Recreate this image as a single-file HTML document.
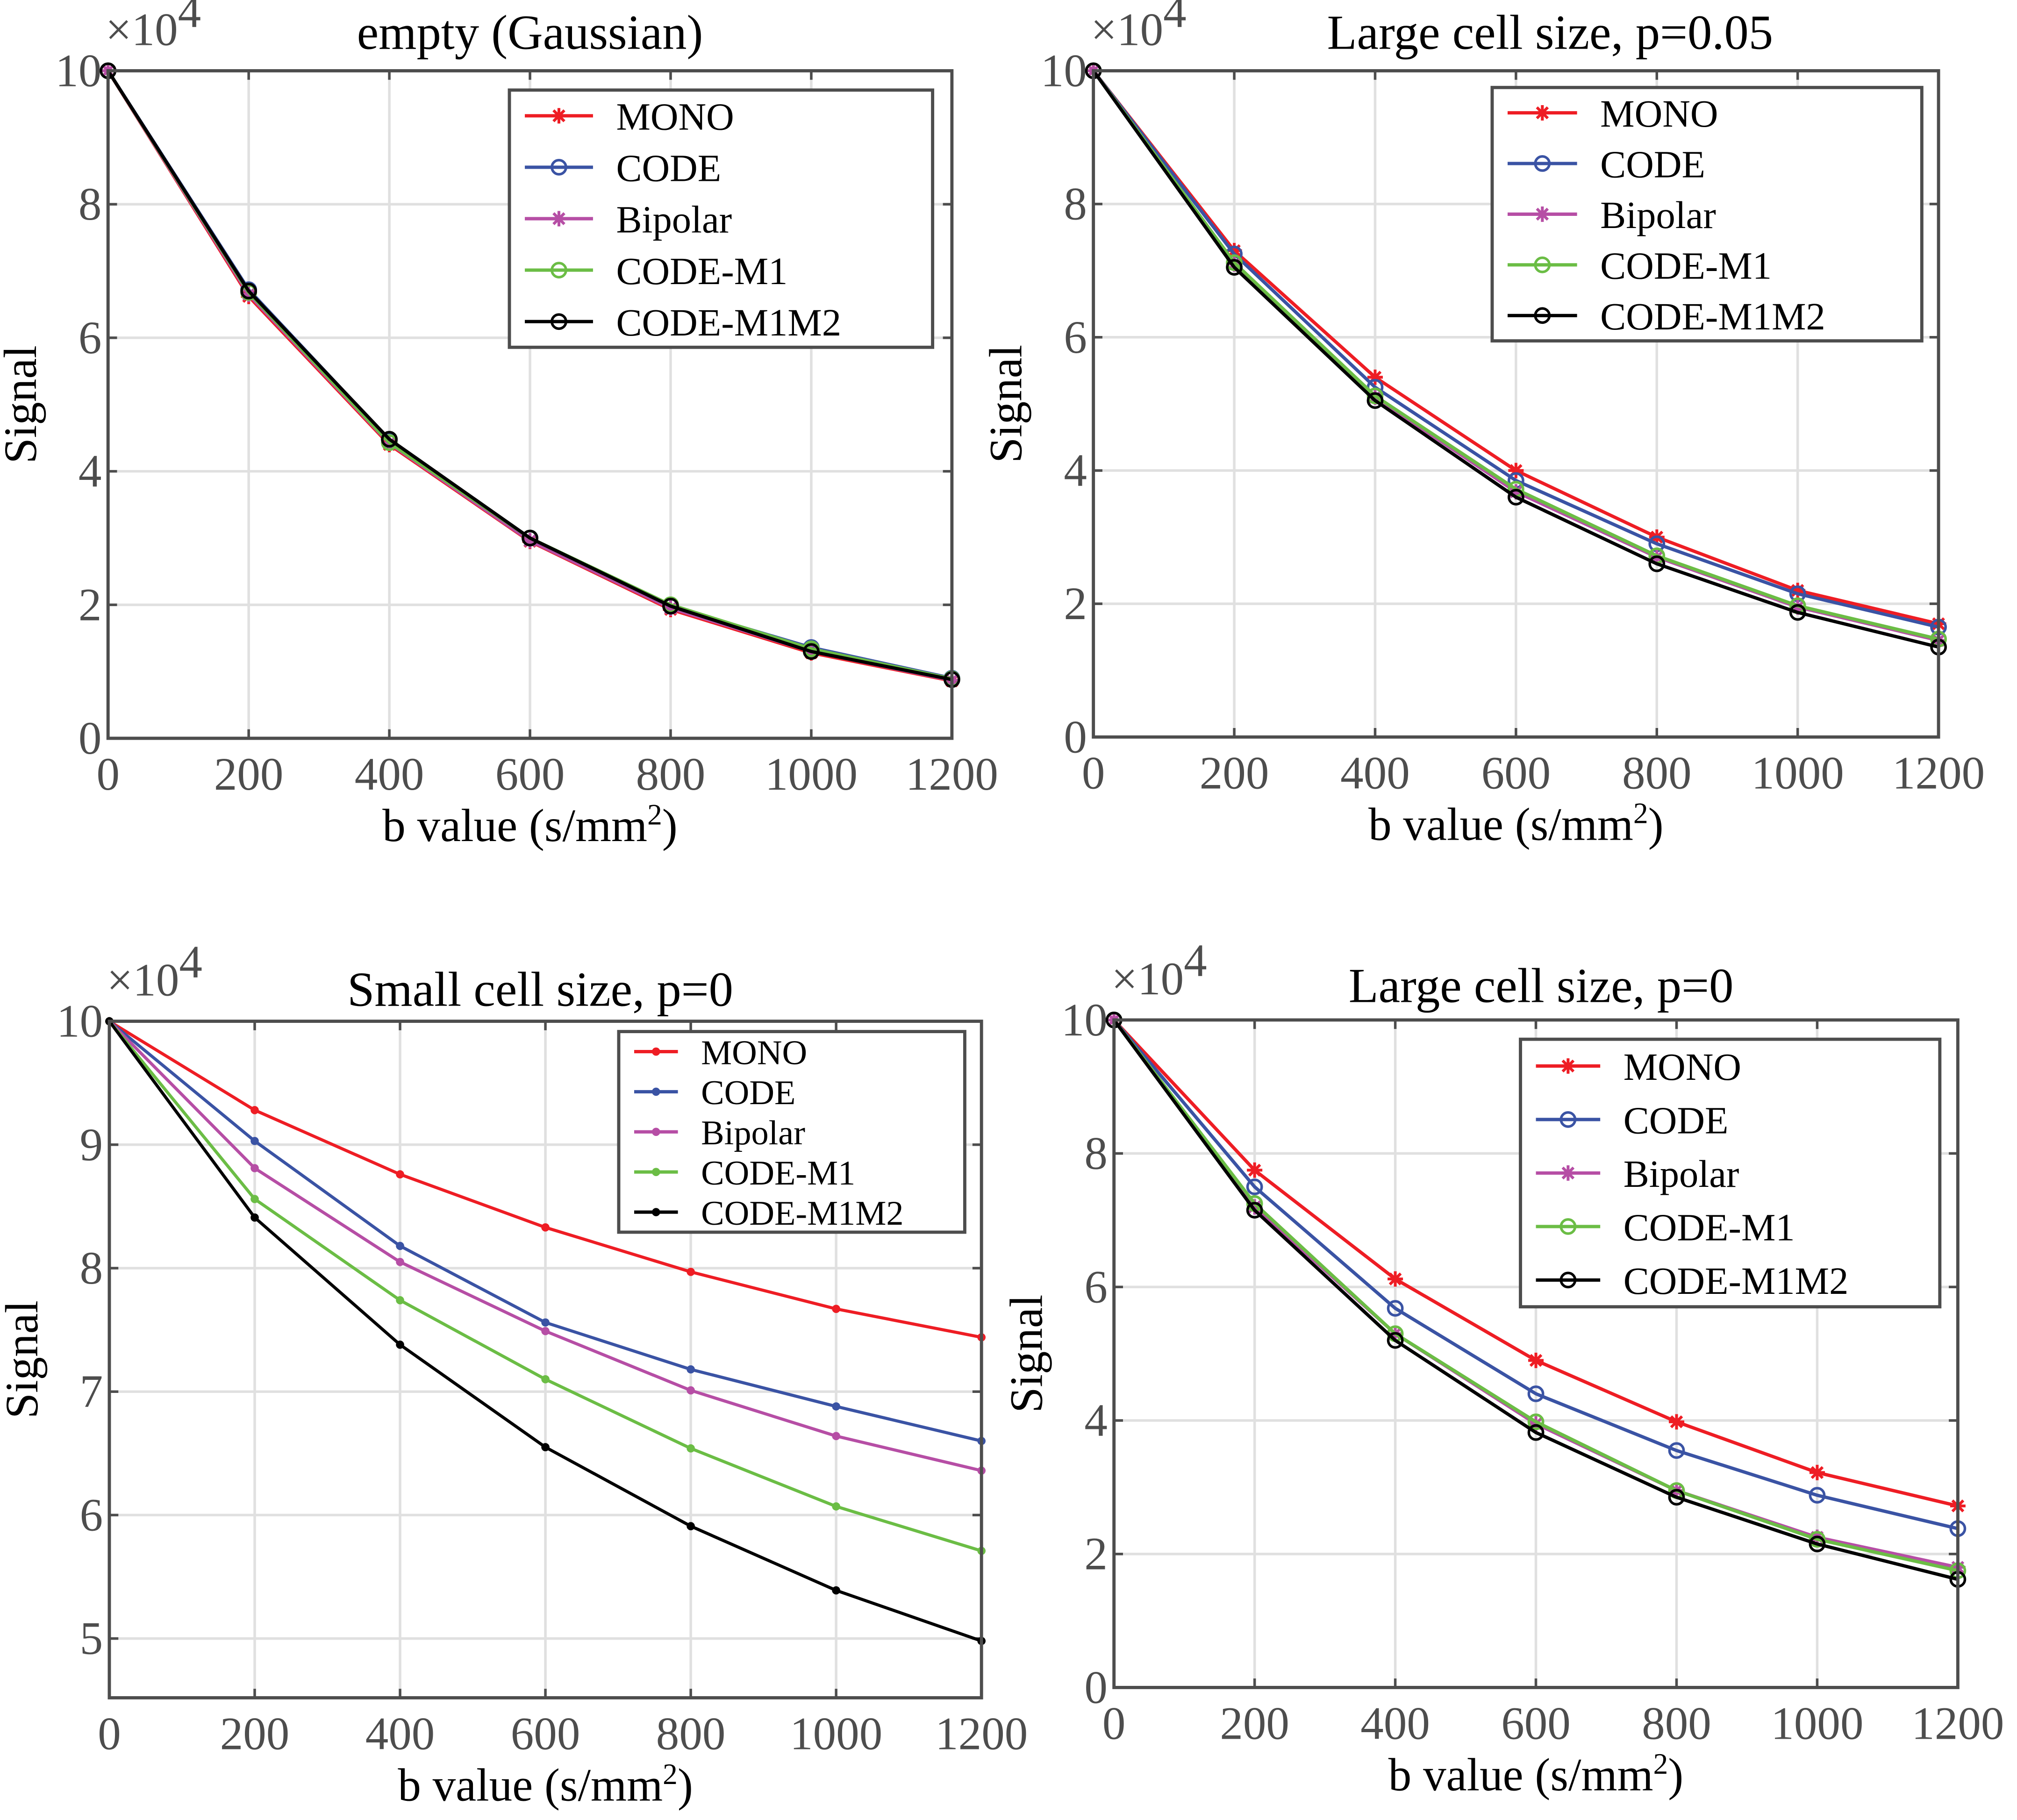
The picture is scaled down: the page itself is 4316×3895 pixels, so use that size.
<!DOCTYPE html>
<html><head><meta charset="utf-8"><style>
html,body{margin:0;padding:0;background:#fff;}
svg{display:block;}
text{font-family:"Liberation Serif",serif;}
</style></head><body>
<svg id="fig" width="4316" height="3895" viewBox="0 0 1568 1415" xmlns="http://www.w3.org/2000/svg"></svg>
<script>
const xCategories=[0,200,400,600,800,1000,1200];
const seriesNames=["MONO","CODE","Bipolar","CODE-M1","CODE-M1M2"];
const seriesColors=["#ee1d24","#3a53a4","#b64ea5","#6bbd45","#000000"];
const p1MONO=[10,6.62,4.4,2.95,1.93,1.28,0.86];
const p1CODE=[10,6.72,4.47,3.0,1.98,1.36,0.9];
const p1Bipolar=[10,6.65,4.42,2.96,1.95,1.3,0.87];
const p1M1=[10,6.68,4.43,3.0,2.0,1.34,0.89];
const p1M1M2=[10,6.7,4.48,3.0,1.98,1.3,0.88];
const p2MONO=[10,7.3,5.4,4.0,3.0,2.2,1.7];
const p2CODE=[10,7.25,5.25,3.85,2.9,2.15,1.65];
const p2Bipolar=[10,7.1,5.1,3.68,2.7,1.95,1.45];
const p2M1=[10,7.12,5.12,3.72,2.72,1.97,1.47];
const p2M1M2=[10,7.05,5.05,3.6,2.6,1.87,1.35];
const p3MONO=[10,9.28,8.76,8.33,7.97,7.67,7.44];
const p3CODE=[10,9.03,8.18,7.56,7.18,6.88,6.6];
const p3Bipolar=[10,8.81,8.05,7.49,7.01,6.64,6.36];
const p3M1=[10,8.56,7.74,7.1,6.54,6.07,5.71];
const p3M1M2=[10,8.41,7.38,6.55,5.91,5.39,4.98];
const p4MONO=[10,7.75,6.12,4.9,3.98,3.22,2.72];
const p4CODE=[10,7.5,5.68,4.4,3.55,2.88,2.38];
const p4Bipolar=[10,7.2,5.3,3.95,2.95,2.25,1.8];
const p4M1=[10,7.25,5.3,3.98,2.95,2.22,1.75];
const p4M1M2=[10,7.15,5.2,3.82,2.85,2.15,1.62];
const yTicksA=[0,2,4,6,8,10];
const yTicksB=[5,6,7,8,9,10];

const NS="http://www.w3.org/2000/svg";
const svg=document.getElementById('fig');
function mk(tag,attrs,parent){const e=document.createElementNS(NS,tag);for(const k in attrs)e.setAttribute(k,attrs[k]);(parent||svg).appendChild(e);return e;}

const panels=[
 {name:"empty-gaussian",title:"empty (Gaussian)",x0:84,x1:740,y0:55,y1:574,ymin:0,ymax:10,ticks:yTicksA,data:[p1MONO,p1CODE,p1Bipolar,p1M1,p1M1M2],style:"big",leg:[396,70,725,270],tx:412,ty:38,lt:83},
 {name:"large-p005",title:"Large cell size, p=0.05",x0:850,x1:1507,y0:55,y1:573,ymin:0,ymax:10,ticks:yTicksA,data:[p2MONO,p2CODE,p2Bipolar,p2M1,p2M1M2],style:"big",leg:[1160,68,1494,265],tx:1205,ty:38,lt:84},
 {name:"small-p0",title:"Small cell size, p=0",x0:85,x1:763,y0:794,y1:1320,ymin:4.52,ymax:10,ticks:yTicksB,data:[p3MONO,p3CODE,p3Bipolar,p3M1,p3M1M2],style:"dot",leg:[481,802,750,958],tx:420,ty:782,lt:64},
 {name:"large-p0",title:"Large cell size, p=0",x0:866,x1:1522,y0:793,y1:1312,ymin:0,ymax:10,ticks:yTicksA,data:[p4MONO,p4CODE,p4Bipolar,p4M1,p4M1M2],style:"big",leg:[1182,808,1508,1016],tx:1198,ty:779,lt:80}
];
const markerType=["star","circle","star","circle","circle"];

function marker(g,type,style,cx,cy,col){
  if(style==="dot"){return mk('circle',{cx:cx,cy:cy,r:3.2,fill:col},g);}
  if(type==="circle"){return mk('circle',{cx:cx,cy:cy,r:5.5,fill:'none',stroke:col,'stroke-width':2},g);}
  const r=6;let d="";
  for(let a=0;a<4;a++){const t=a*Math.PI/4;d+=`M${cx-r*Math.cos(t)},${cy-r*Math.sin(t)}L${cx+r*Math.cos(t)},${cy+r*Math.sin(t)}`;}
  return mk('path',{d:d,stroke:col,'stroke-width':2.2,fill:'none'},g);
}
function txt(g,x,y,s,attrs){
  const t=mk('text',Object.assign({x:x,y:y},attrs),g);
  t.textContent=s;return t;
}

panels.forEach(P=>{
  const g=mk('g',{});
  
  
  const sx=v=>P.x0+(v-0)/(1200)*(P.x1-P.x0);
  const sy=v=>P.y1-(v-P.ymin)/(P.ymax-P.ymin)*(P.y1-P.y0);
  xCategories.forEach(v=>{const l=mk('line',{x1:sx(v),x2:sx(v),y1:P.y0,y2:P.y1,stroke:'#e0e0e0','stroke-width':2},g);});
  P.ticks.forEach(v=>{const l=mk('line',{x1:P.x0,x2:P.x1,y1:sy(v),y2:sy(v),stroke:'#e0e0e0','stroke-width':2},g);});
  xCategories.forEach(v=>{
    mk('line',{x1:sx(v),x2:sx(v),y1:P.y1,y2:P.y1-7,stroke:'#4d4d4d','stroke-width':2},g);
    mk('line',{x1:sx(v),x2:sx(v),y1:P.y0,y2:P.y0+7,stroke:'#4d4d4d','stroke-width':2},g);
    const t=txt(g,sx(v),P.y1+40,v,{'text-anchor':'middle','font-size':36,fill:'#4d4d4d'});
    
  });
  P.ticks.forEach(v=>{
    mk('line',{x1:P.x0,x2:P.x0+7,y1:sy(v),y2:sy(v),stroke:'#4d4d4d','stroke-width':2},g);
    mk('line',{x1:P.x1,x2:P.x1-7,y1:sy(v),y2:sy(v),stroke:'#4d4d4d','stroke-width':2},g);
    const t=txt(g,P.x0-5,sy(v)+12,v,{'text-anchor':'end','font-size':36,fill:'#4d4d4d'});
    
  });
  P.data.forEach((arr,i)=>{
    const pts=arr.map((v,j)=>sx(xCategories[j])+','+sy(v)).join(' ');
    const pl=mk('polyline',{points:pts,fill:'none',stroke:seriesColors[i],'stroke-width':P.style==='dot'?2.4:2.6},g);
    
    
    arr.forEach((v,j)=>{const m=marker(g,markerType[i],P.style,sx(xCategories[j]),sy(v),seriesColors[i]);
      
      });
  });
  const b=mk('rect',{x:P.x0,y:P.y0,width:P.x1-P.x0,height:P.y1-P.y0,fill:'none',stroke:'#4d4d4d','stroke-width':2.5},g);
  
  const ex=mk('text',{x:P.x0-2,y:P.y0-20,'font-size':36,fill:'#4d4d4d'},g);
  
  ex.innerHTML='×10<tspan dy="-14" font-size="36">4</tspan>';
  const tt=txt(g,P.tx,P.ty,P.title,{'text-anchor':'middle','font-size':38,fill:'#000'});
  
  const xl=mk('text',{x:(P.x0+P.x1)/2,y:P.y1+80,'text-anchor':'middle','font-size':36,fill:'#000'},g);
  xl.innerHTML='b value (s/mm<tspan dy="-13" font-size="23">2</tspan><tspan dy="13">)</tspan>';
  
  const yl=mk('text',{x:0,y:0,'text-anchor':'middle','font-size':36,fill:'#000',transform:`translate(${P.x0-56},${(P.y0+P.y1)/2}) rotate(-90)`},g);
  yl.textContent='Signal';
  const [lx0,ly0,lx1,ly1]=P.leg;
  const lg=mk('g',{},g);
  mk('rect',{x:lx0,y:ly0,width:lx1-lx0,height:ly1-ly0,fill:'#fff',stroke:'#4d4d4d','stroke-width':2.5},lg);
  const rowH=(ly1-ly0)/5, fs=P.style==='dot'?27:30;
  const le=P.lt-18;
  seriesNames.forEach((n,i)=>{
    const cy=ly0+rowH*(i+0.5);
    mk('line',{x1:lx0+12,x2:lx0+le,y1:cy,y2:cy,stroke:seriesColors[i],'stroke-width':2.6},lg);
    marker(lg,markerType[i],P.style,lx0+(12+le)/2,cy,seriesColors[i]);
    const t=txt(lg,lx0+P.lt,cy+fs*0.36,n,{'font-size':fs,fill:'#000'});
    
  });
});
</script>
</body></html>
